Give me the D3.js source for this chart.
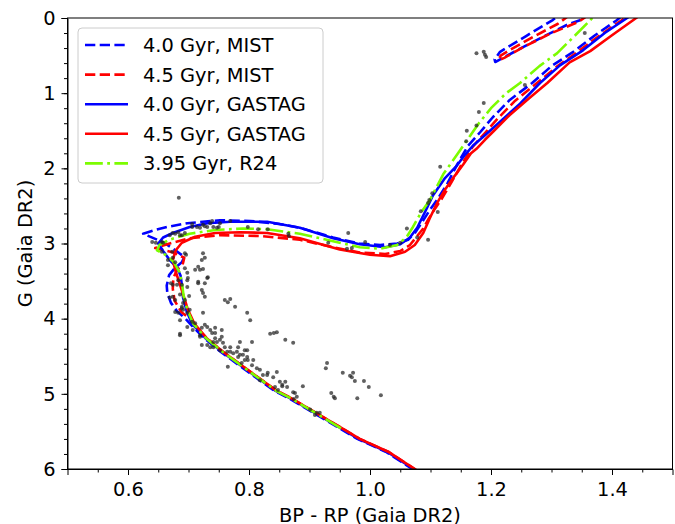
<!DOCTYPE html>
<html>
<head>
<meta charset="utf-8">
<script src="https://cdn.jsdelivr.net/npm/d3@7"></script>
<style>
body { margin: 0; background: #fff; }
text { font-family: "DejaVu Sans", sans-serif; }
</style>
</head>
<body>
<div id="cmd"></div>
<script>
// isochrones, [BP-RP, G]
const mist40 = [[1.090,6.15],[1.070,6.0],[1.026,5.77],[0.979,5.60],[0.946,5.44],[0.906,5.25],[0.864,5.05],[0.842,4.96],[0.809,4.77],[0.770,4.54],[0.753,4.44],[0.726,4.26],[0.705,4.09],[0.695,4.00],[0.681,3.90],[0.671,3.79],[0.665,3.66],[0.664,3.56],[0.668,3.42],[0.678,3.32],[0.689,3.25],[0.693,3.18],[0.680,3.10],[0.660,2.99],[0.625,2.87],[0.645,2.82],[0.665,2.78],[0.698,2.73],[0.752,2.69],[0.802,2.70],[0.850,2.74],[0.884,2.79],[0.939,2.92],[0.983,3.00],[1.017,3.02],[1.045,3.00],[1.063,2.95],[1.075,2.85],[1.088,2.69],[1.100,2.54],[1.111,2.42],[1.128,2.20],[1.144,1.95],[1.162,1.70],[1.182,1.52],[1.203,1.32],[1.231,1.09],[1.268,0.865],[1.300,0.64],[1.336,0.45],[1.372,0.23],[1.408,0.03],[1.44,-0.2],[1.48,-0.6],
  [1.37,-0.15],[1.347,0.03],[1.326,0.09],[1.281,0.27],[1.243,0.43],[1.213,0.56],[1.207,0.585],[1.206,0.55],[1.215,0.45],[1.258,0.24],[1.302,0.027],[1.33,-0.15]];
const mist45 = [[1.095,6.15],[1.074,6.0],[1.030,5.77],[0.983,5.60],[0.950,5.44],[0.910,5.25],[0.868,5.05],[0.846,4.96],[0.813,4.77],[0.774,4.54],[0.757,4.44],[0.730,4.26],[0.708,4.07],[0.702,4.00],[0.688,3.91],[0.677,3.76],[0.674,3.60],[0.675,3.46],[0.681,3.35],[0.691,3.26],[0.693,3.19],[0.675,3.12],[0.645,3.06],[0.669,3.00],[0.702,2.93],[0.752,2.89],[0.818,2.90],[0.884,2.95],[0.939,3.05],[0.983,3.12],[1.025,3.14],[1.050,3.10],[1.066,3.02],[1.078,2.90],[1.088,2.80],[1.097,2.67],[1.108,2.53],[1.119,2.40],[1.135,2.18],[1.152,1.94],[1.170,1.71],[1.190,1.53],[1.212,1.33],[1.240,1.10],[1.276,0.865],[1.310,0.64],[1.345,0.44],[1.380,0.23],[1.416,0.03],[1.45,-0.2],[1.49,-0.6],
  [1.38,-0.15],[1.345,0.05],[1.300,0.20],[1.255,0.38],[1.222,0.53],[1.213,0.56],[1.216,0.50],[1.230,0.43],[1.270,0.25],[1.310,0.08],[1.34,-0.1]];
const gastag40 = [[1.092,6.15],[1.072,6.0],[1.028,5.77],[0.981,5.60],[0.948,5.44],[0.908,5.25],[0.866,5.05],[0.844,4.96],[0.811,4.77],[0.772,4.54],[0.755,4.44],[0.728,4.26],[0.706,4.07],[0.697,3.90],[0.691,3.72],[0.689,3.55],[0.687,3.43],[0.681,3.32],[0.669,3.22],[0.658,3.10],[0.650,3.00],[0.658,2.92],[0.674,2.86],[0.702,2.78],[0.731,2.73],[0.769,2.71],[0.830,2.71],[0.884,2.79],[0.939,2.93],[0.983,3.01],[1.025,3.05],[1.050,3.01],[1.066,2.92],[1.078,2.79],[1.091,2.58],[1.104,2.36],[1.124,2.13],[1.144,1.96],[1.157,1.82],[1.170,1.70],[1.190,1.56],[1.215,1.38],[1.248,1.14],[1.281,0.865],[1.314,0.63],[1.352,0.43],[1.388,0.20],[1.425,0.0],[1.46,-0.2]];
const gastag45 = [[1.095,6.15],[1.074,6.0],[1.030,5.77],[0.983,5.60],[0.950,5.44],[0.910,5.25],[0.868,5.05],[0.846,4.96],[0.813,4.77],[0.774,4.54],[0.757,4.44],[0.730,4.26],[0.710,4.07],[0.699,3.88],[0.694,3.75],[0.686,3.55],[0.678,3.35],[0.674,3.22],[0.679,3.09],[0.689,2.99],[0.711,2.91],[0.744,2.86],[0.785,2.85],[0.830,2.86],[0.884,2.93],[0.950,3.08],[1.000,3.15],[1.033,3.17],[1.058,3.11],[1.074,3.02],[1.088,2.86],[1.099,2.66],[1.111,2.46],[1.125,2.27],[1.140,2.10],[1.154,1.95],[1.167,1.80],[1.176,1.74],[1.190,1.62],[1.205,1.50],[1.231,1.29],[1.264,1.06],[1.293,0.865],[1.330,0.59],[1.364,0.44],[1.400,0.23],[1.440,0.0],[1.47,-0.2]];
const r24 = [[0.952,5.46],[0.909,5.25],[0.867,5.05],[0.845,4.96],[0.812,4.77],[0.773,4.54],[0.756,4.44],[0.729,4.26],[0.708,4.07],[0.698,3.88],[0.692,3.70],[0.689,3.52],[0.685,3.38],[0.676,3.25],[0.662,3.15],[0.648,3.09],[0.652,3.02],[0.668,2.95],[0.702,2.87],[0.744,2.82],[0.790,2.80],[0.830,2.81],[0.884,2.87],[0.939,2.97],[0.983,3.05],[1.017,3.07],[1.045,3.02],[1.060,2.92],[1.071,2.78],[1.085,2.58],[1.099,2.42],[1.121,2.08],[1.142,1.84],[1.160,1.63],[1.180,1.40],[1.200,1.20],[1.225,1.00],[1.248,0.865],[1.280,0.64],[1.309,0.47],[1.338,0.24],[1.364,0.03],[1.39,-0.2]];

// Gaia DR2 stars, [BP-RP, G]
const stars = [[0.684,2.39],
  [0.640,2.98],[0.646,2.99],[0.656,2.98],[0.658,2.99],[0.669,2.89],[0.674,2.86],[0.678,2.87],[0.683,2.85],[0.686,2.89],[0.689,2.89],[0.694,2.86],[0.706,2.74],[0.706,2.78],[0.714,2.78],[0.719,2.79],[0.724,2.75],[0.727,2.77],[0.731,2.78],[0.736,2.73],[0.739,2.70],[0.741,2.78],[0.747,2.79],[0.750,2.78],[0.752,2.73],[0.769,2.70],[0.798,2.78],[0.815,2.81],[0.831,2.81],[0.865,2.87],[0.866,2.90],[0.931,2.99],[0.962,3.07],[0.964,2.86],[0.970,3.06],[0.992,2.98],[1.033,3.02],[1.050,2.99],[1.061,2.80],[1.078,2.92],[1.096,2.95],[1.084,2.57],[1.096,2.46],[1.098,2.42],[1.103,2.33],[1.112,2.58],[1.116,1.98],[1.159,1.64],[1.160,1.50],[1.176,1.43],[1.180,1.25],[1.188,1.13],[1.256,0.89],[1.355,0.20],
  [1.176,0.47],[1.188,0.45],[1.190,0.49],[1.192,0.52],
  [0.656,3.11],[0.666,3.22],[0.666,3.29],[0.673,3.11],[0.674,3.19],[0.678,3.25],[0.694,3.13],[0.696,3.15],[0.716,3.31],[0.719,3.35],[0.711,3.35],[0.694,3.33],[0.722,3.22],[0.724,3.13],[0.727,3.19],[0.724,3.34],[0.698,3.39],[0.699,3.46],[0.731,3.46],[0.732,3.45],[0.683,3.49],[0.698,3.49],[0.671,3.53],[0.674,3.55],[0.681,3.55],[0.689,3.55],[0.698,3.58],[0.716,3.51],[0.716,3.53],[0.727,3.53],[0.722,3.62],[0.724,3.66],[0.727,3.71],[0.669,3.72],[0.674,3.71],[0.686,3.68],[0.701,3.70],[0.678,3.75],[0.694,3.75],[0.760,3.75],[0.765,3.78],[0.769,3.74],[0.691,3.79],[0.777,3.84],[0.689,3.84],[0.689,3.86],[0.691,3.88],[0.702,3.88],[0.678,3.91],[0.683,3.92],[0.698,3.92],[0.724,3.92],[0.797,3.92],[0.802,4.02],[0.686,4.02],[0.706,4.04],[0.711,4.06],[0.727,4.08],[0.698,4.11],[0.731,4.11],[0.744,4.12],[0.707,4.15],[0.736,4.15],[0.755,4.15],[0.722,4.12],[0.739,4.19],[0.744,4.19],[0.686,4.20],[0.686,4.22],[0.719,4.22],[0.719,4.24],[0.755,4.24],[0.744,4.26],[0.752,4.28],[0.741,4.31],[0.747,4.31],[0.757,4.32],[0.785,4.31],[0.805,4.31],[0.722,4.35],[0.731,4.35],[0.741,4.38],[0.760,4.38],[0.769,4.38],[0.782,4.38],[0.736,4.38],[0.752,4.42],[0.793,4.42],[0.797,4.42],[0.769,4.44],[0.780,4.44],[0.764,4.44],[0.774,4.46],[0.790,4.48],[0.785,4.48],[0.782,4.51],[0.797,4.51],[0.798,4.55],[0.793,4.55],[0.807,4.55],[0.788,4.59],[0.805,4.62],[0.765,4.64],[0.813,4.66],[0.818,4.68],[0.831,4.72],[0.846,4.71],[0.823,4.75],[0.830,4.75],[0.840,4.78],[0.818,4.82],[0.851,4.84],[0.860,4.84],[0.855,4.88],[0.843,4.91],[0.863,4.91],[0.855,4.90],[0.848,4.95],[0.873,4.98],[0.876,4.99],[0.874,5.07],[0.879,5.04],[0.901,5.21],[0.912,5.25],[0.917,5.25],[0.909,5.28],
  [0.835,4.20],[0.846,4.18],[0.841,4.19],[0.860,4.28],[0.873,4.32],[0.889,4.90],[0.929,4.59],[0.927,4.66],[0.936,4.99],[0.940,5.04],[0.942,5.06],[0.955,4.72],[0.967,4.76],[0.972,4.72],[0.970,4.78],[0.975,4.83],[0.990,4.83],[0.998,4.91],[1.018,5.02],[0.979,5.06]];

const xTicks = [0.6, 0.8, 1.0, 1.2, 1.4];
const yTicks = [0, 1, 2, 3, 4, 5, 6];
const legendLabels = ["4.0 Gyr, MIST", "4.5 Gyr, MIST", "4.0 Gyr, GASTAG", "4.5 Gyr, GASTAG", "3.95 Gyr, R24"];

const width = 675, height = 524;
const mLeft = 67.5, mRight = 672.5, mTop = 18, mBottom = 469;

const svg = d3.select("#cmd").append("svg")
	.attr("width", width)
	.attr("height", height);

const x = d3.scaleLinear().domain([0.5, 1.5]).range([mLeft, mRight]);
const y = d3.scaleLinear().domain([0, 6]).range([mTop, mBottom]);

svg.append("clipPath").attr("id", "plotclip")
	.append("rect")
	.attr("x", mLeft).attr("y", mTop)
	.attr("width", mRight - mLeft).attr("height", mBottom - mTop);

const series = [
	{data: mist40, color: "#0000ff", dash: "10.3,4.4"},
	{data: mist45, color: "#ff0000", dash: "10.3,4.4"},
	{data: gastag40, color: "#0000ff", dash: null},
	{data: gastag45, color: "#ff0000", dash: null},
	{data: r24, color: "#7cfc00", dash: "17.8,4.4,2.8,4.4"}
];

const line = d3.line().x(d => x(d[0])).y(d => y(d[1]));

const plot = svg.append("g").attr("clip-path", "url(#plotclip)");

plot.selectAll("path.iso")
	.data(series)
	.enter()
	.append("path")
	.attr("class", "iso")
	.attr("d", d => line(d.data))
	.attr("fill", "none")
	.attr("stroke", d => d.color)
	.attr("stroke-width", 2.6)
	.attr("stroke-dasharray", d => d.dash)
	.attr("stroke-linejoin", "round");

plot.selectAll("circle")
	.data(stars)
	.enter()
	.append("circle")
	.attr("cx", d => x(d[0]))
	.attr("cy", d => y(d[1]))
	.attr("r", 2)
	.attr("fill", "#222")
	.attr("fill-opacity", 0.72);

// axes
const fs = "19.4px";
svg.append("g").attr("transform", `translate(0,${mBottom})`)
	.call(d3.axisBottom(x).tickValues(xTicks).tickFormat(d3.format(".1f")).tickSize(6).tickPadding(7));
svg.append("g").attr("transform", `translate(0,${mBottom})`)
	.call(d3.axisBottom(x).tickValues(d3.range(0.55, 1.5, 0.05)).tickFormat("").tickSize(3.5))
	.select(".domain").remove();
svg.append("g").attr("transform", `translate(${mLeft},0)`)
	.call(d3.axisLeft(y).tickValues(yTicks).tickFormat(d3.format("d")).tickSize(6).tickPadding(6));
svg.append("g").attr("transform", `translate(${mLeft},0)`)
	.call(d3.axisLeft(y).tickValues(d3.range(0.2, 6, 0.2)).tickFormat("").tickSize(3.5))
	.select(".domain").remove();

svg.selectAll(".tick text")
	.attr("font-family", "DejaVu Sans")
	.style("font-size", fs)
	.attr("fill", "black");
svg.selectAll(".tick line").attr("stroke", "black").attr("stroke-width", 1);

// frame
svg.append("rect")
	.attr("x", mLeft).attr("y", mTop)
	.attr("width", mRight - mLeft).attr("height", mBottom - mTop)
	.attr("fill", "none")
	.attr("stroke", "black")
	.attr("stroke-width", 1);

svg.append("text")
	.attr("x", (mLeft + mRight) / 2)
	.attr("y", 522)
	.attr("text-anchor", "middle")
	.style("font-size", fs)
	.text("BP - RP (Gaia DR2)");

svg.append("text")
	.attr("transform", `translate(32,${(mTop + mBottom) / 2}) rotate(-90)`)
	.attr("text-anchor", "middle")
	.style("font-size", fs)
	.text("G (Gaia DR2)");

// legend
const lg = svg.append("g").attr("id", "legend");
lg.append("rect")
	.attr("x", 78).attr("y", 28)
	.attr("width", 245).attr("height", 155)
	.attr("rx", 4)
	.attr("fill", "white")
	.attr("fill-opacity", 0.8)
	.attr("stroke", "#cccccc")
	.attr("stroke-width", 1);

const rows = lg.selectAll("g.row")
	.data(series)
	.enter()
	.append("g")
	.attr("class", "row")
	.attr("transform", (d, i) => `translate(0,${45 + i * 29.6})`);
rows.append("line")
	.attr("x1", 85).attr("x2", 128)
	.attr("y1", 0).attr("y2", 0)
	.attr("stroke", d => d.color)
	.attr("stroke-width", 2.6)
	.attr("stroke-dasharray", d => d.dash);
rows.append("text")
	.attr("x", 143)
	.attr("y", 7)
	.style("font-size", fs)
	.text((d, i) => legendLabels[i]);
</script>
</body>
</html>
